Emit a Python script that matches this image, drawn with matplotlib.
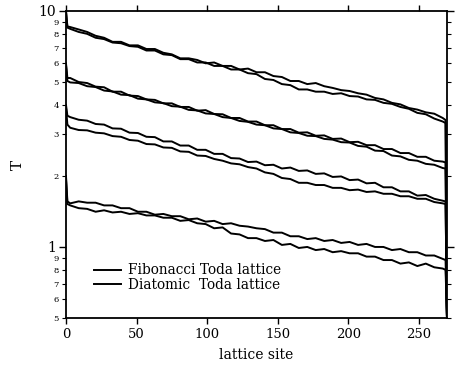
import numpy as np
import matplotlib
matplotlib.use('Agg')
import matplotlib.pyplot as plt
from matplotlib.ticker import FixedLocator, FixedFormatter

plt.rcParams['font.family'] = ['DejaVu Serif']

# lattice sites: start spike, body every 6 sites, end drop
sites = np.concatenate([[0, 1], np.arange(3, 268, 6), [269, 270]])

# top pair
fib_a = [10.0, 8.6,
         8.55, 8.35, 8.15, 7.85, 7.7, 7.4, 7.4, 7.15, 7.15, 6.9, 6.9, 6.65, 6.55, 6.3, 6.3,
         6.2, 6.0, 6.05, 5.85, 5.85, 5.65, 5.7, 5.5, 5.5, 5.3, 5.25, 5.05, 5.05, 4.9, 4.95,
         4.8, 4.72, 4.62, 4.58, 4.48, 4.42, 4.28, 4.22, 4.08, 4.02, 3.88, 3.82, 3.72, 3.67, 3.52,
         3.45, 0.5]
dia_a = [10.0, 8.5,
         8.4, 8.15, 8.0, 7.7, 7.6, 7.35, 7.3, 7.1, 7.05, 6.8, 6.8, 6.55, 6.5, 6.25, 6.25,
         6.05, 6.05, 5.85, 5.85, 5.65, 5.65, 5.45, 5.4, 5.15, 5.1, 4.9, 4.85, 4.65, 4.65, 4.55,
         4.55, 4.45, 4.48, 4.36, 4.34, 4.22, 4.2, 4.08, 4.04, 3.92, 3.85, 3.7, 3.65, 3.5, 3.4,
         3.35, 0.5]

# second pair
fib_b = [6.0, 5.2,
         5.2, 5.0, 4.95, 4.78, 4.75, 4.55, 4.55, 4.38, 4.36, 4.22, 4.2, 4.06, 4.06, 3.92, 3.92,
         3.78, 3.8, 3.66, 3.65, 3.52, 3.52, 3.4, 3.4, 3.28, 3.28, 3.16, 3.16, 3.05, 3.06, 2.96,
         2.97, 2.87, 2.88, 2.78, 2.79, 2.7, 2.7, 2.6, 2.6, 2.5, 2.5, 2.41, 2.41, 2.32, 2.3,
         2.28, 0.5]
dia_b = [5.9, 5.05,
         4.98, 4.95, 4.8, 4.76, 4.6, 4.56, 4.42, 4.4, 4.25, 4.22, 4.1, 4.07, 3.95, 3.93, 3.81,
         3.79, 3.68, 3.66, 3.55, 3.52, 3.42, 3.39, 3.3, 3.28, 3.18, 3.16, 3.06, 3.04, 2.96, 2.95,
         2.87, 2.85, 2.78, 2.77, 2.68, 2.66, 2.56, 2.55, 2.44, 2.42, 2.34, 2.32, 2.25, 2.23, 2.16,
         2.15, 0.5]

# third pair
fib_c = [4.0, 3.6,
         3.55, 3.46, 3.43, 3.32, 3.3, 3.18, 3.17, 3.05, 3.04, 2.93, 2.92, 2.8, 2.8, 2.69, 2.69,
         2.58, 2.58, 2.48, 2.48, 2.38, 2.37, 2.29, 2.3, 2.22, 2.23, 2.15, 2.17, 2.1, 2.11, 2.04,
         2.05, 1.98, 1.99, 1.92, 1.93, 1.86, 1.87, 1.79, 1.79, 1.72, 1.72, 1.65, 1.66, 1.6, 1.57,
         1.56, 0.5]
dia_c = [3.9, 3.3,
         3.2, 3.13, 3.12, 3.05, 3.03, 2.95, 2.93, 2.84, 2.82, 2.73, 2.72, 2.64, 2.63, 2.54, 2.53,
         2.44, 2.43, 2.36, 2.32, 2.26, 2.24, 2.18, 2.15, 2.07, 2.04, 1.96, 1.94, 1.87, 1.87, 1.83,
         1.83, 1.78, 1.78, 1.74, 1.75, 1.71, 1.72, 1.68, 1.68, 1.64, 1.64, 1.6, 1.6, 1.55, 1.53,
         1.52, 0.5]

# bottom pair
fib_d = [2.0, 1.56,
         1.53, 1.56, 1.54, 1.54, 1.5, 1.5, 1.46, 1.46, 1.41, 1.41, 1.37, 1.38, 1.35, 1.35, 1.31,
         1.32, 1.28, 1.29, 1.25, 1.26, 1.23, 1.22, 1.2, 1.19, 1.15, 1.15, 1.11, 1.11, 1.08, 1.09,
         1.06, 1.07, 1.04, 1.05, 1.02, 1.03, 1.0, 1.0, 0.97, 0.98, 0.95, 0.95, 0.92, 0.92, 0.89,
         0.88, 0.5]
dia_d = [1.95, 1.52,
         1.5, 1.46, 1.45, 1.41, 1.43, 1.4, 1.41, 1.38, 1.39, 1.36, 1.36, 1.33, 1.33, 1.29, 1.3,
         1.26, 1.25, 1.2, 1.21, 1.14, 1.13, 1.09, 1.09, 1.06, 1.07, 1.02, 1.03, 0.99, 1.0, 0.97,
         0.98, 0.95, 0.96, 0.94, 0.94, 0.91, 0.91, 0.88, 0.88, 0.85, 0.86, 0.83, 0.85, 0.82, 0.81,
         0.8, 0.5]

fig = plt.figure(figsize=(4.56, 3.71), dpi=100)
ax = fig.add_axes([0.1447, 0.1429, 0.8355, 0.8275])

for i, (f, d) in enumerate([(fib_a, dia_a), (fib_b, dia_b), (fib_c, dia_c), (fib_d, dia_d)]):
    ax.plot(sites, f, color='black', lw=1.4,
            label='Fibonacci Toda lattice' if i == 0 else None)
    ax.plot(sites, d, color='black', lw=1.4,
            label='Diatomic  Toda lattice' if i == 0 else None)

ax.set_yscale('log')
ax.set_xlim(0, 270)
ax.set_ylim(0.5, 10)

ax.set_xticks([0, 50, 100, 150, 200, 250])
ax.tick_params(axis='x', labelsize=9.5, direction='out', top=True, length=4, width=1)

ax.yaxis.set_major_locator(FixedLocator([1, 10]))
ax.yaxis.set_major_formatter(FixedFormatter(['1', '10']))
minor_vals = [0.5, 0.6, 0.7, 0.8, 0.9, 2, 3, 4, 5, 6, 7, 8, 9]
minor_labels = ['5', '6', '7', '8', '9', '2', '3', '4', '5', '6', '7', '8', '9']
ax.yaxis.set_minor_locator(FixedLocator(minor_vals))
ax.yaxis.set_minor_formatter(FixedFormatter(minor_labels))
ax.tick_params(axis='y', which='major', labelsize=10, direction='out', right=True,
               length=5, width=1, pad=2)
ax.tick_params(axis='y', which='minor', labelsize=6, direction='out', right=True,
               length=3, width=0.8, pad=2)

for s in ax.spines.values():
    s.set_linewidth(1.3)

ax.set_xlabel('lattice site', fontsize=10, labelpad=5)
ax.set_ylabel('T', fontsize=11, labelpad=10)

ax.legend(loc='upper left', bbox_to_anchor=(0.055, 0.20), frameon=False, fontsize=9.8,
          handlelength=2.0, handletextpad=0.5, labelspacing=0.05, borderpad=0)

fig.savefig('out.png', dpi=100)
